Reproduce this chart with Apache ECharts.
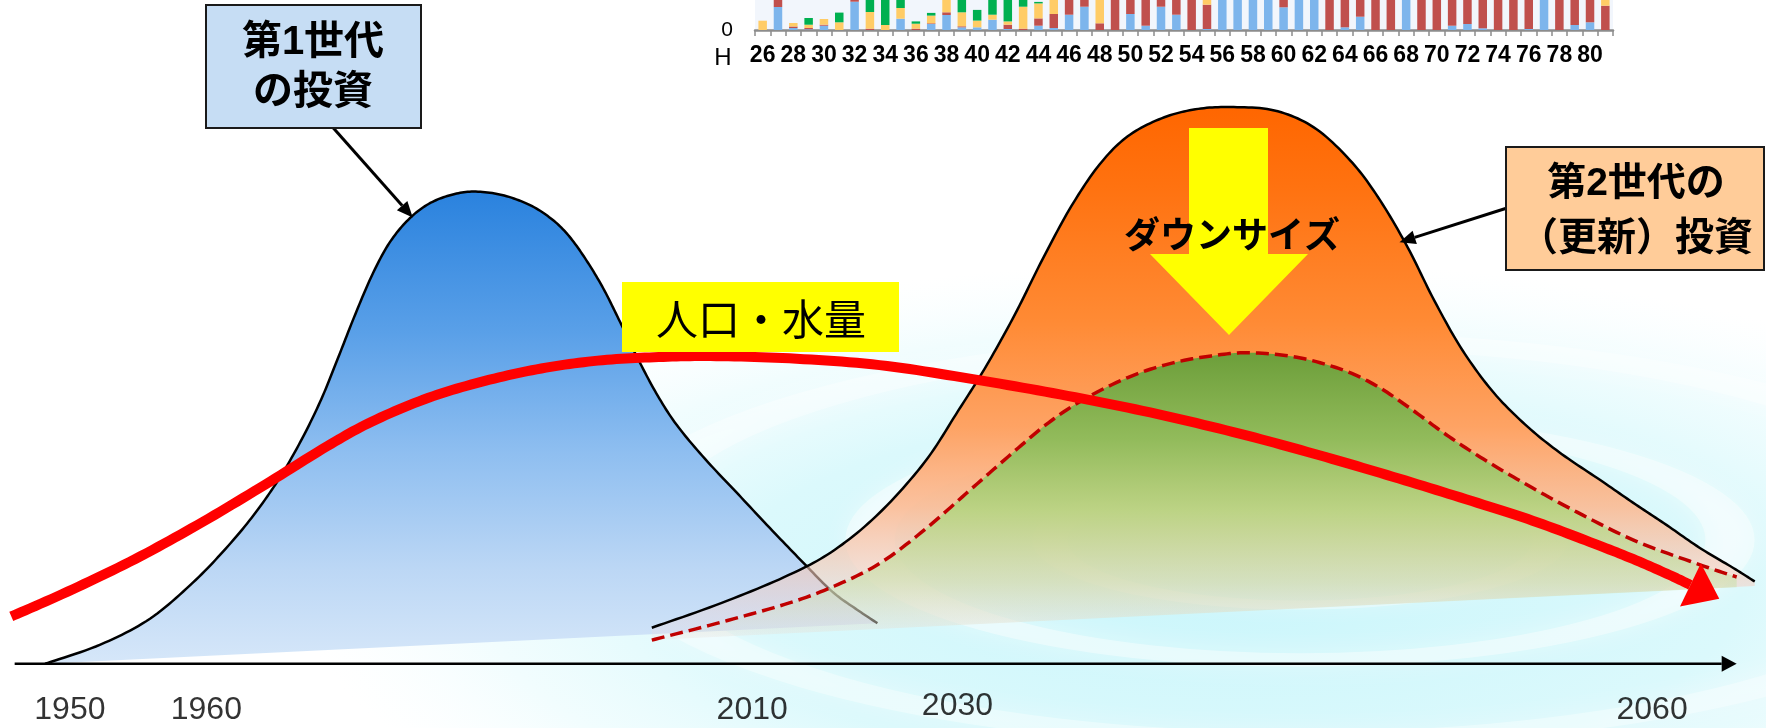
<!DOCTYPE html>
<html><head><meta charset="utf-8">
<script src="https://cdn.jsdelivr.net/npm/echarts@6/dist/echarts.min.js"></script>
<style>html,body{margin:0;padding:0;background:#fff}#c{width:1766px;height:728px}</style>
</head><body><div id="c"></div>
<script>
// ---------- inset bar chart (H26 - H81) ----------
const barYears = ['26','27','28','29','30','31','32','33','34','35','36','37','38','39','40','41','42','43','44','45','46','47','48','49','50','51','52','53','54','55','56','57','58','59','60','61','62','63','64','65','66','67','68','69','70','71','72','73','74','75','76','77','78','79','80','81'];
const barBlue   = [0,23,2,0.7,4.3,0,28.3,0,0,11.3,0,6,15,2.7,2.7,10.3,1,0,4.3,2,15.3,23.3,0,0,16,4.3,23.3,15.3,0,1,40,40,40,40,22.7,40,40,0,2.7,13.3,0,0,40,0,0,4.3,6,1.7,0,0,1,40,0,5,7.7,0];
const barRed    = [0,9,1.5,1.3,1,0,3,1.3,0,0,1.3,0.7,2.7,1,0,0,4.3,1.3,7.3,14,20,15,6.7,40,20,30,10,20,40,24.3,0,0,0,0,15,0,0,40,30,20,40,40,0,40,40,30,30,30,40,40,30,0,40,30,30,24.3];
const barYellow = [9.3,0,3.5,3.3,5.7,7.7,0,16.7,5,10.7,5,7.7,20,14,6.7,5,3.3,22,15,20,0,0,30,0,0,0,0,0,0,10,0,0,0,0,0,0,0,0,0,0,0,0,0,0,0,0,0,0,0,0,0,0,0,0,0,10];
const barGreen  = [0,0,0,6.7,0,9.7,0,20,40,20,2.3,2.7,0,25,10.7,25,30,15,1.5,0,0,0,0,0,0,0,0,0,0,0,0,0,0,0,0,0,0,0,0,0,0,0,0,0,0,0,0,0,0,0,0,0,0,0,0,0];

// ---------- main illustration: [position, level above time axis] ----------
const firstGen = [[40,0],[89,17],[133,40],[171,72],[200,102],[225,132],[248,165],[268,200],[285,235],[300,272],[315,310],[330,345],[345,373],[362,394],[380,408],[400,416],[420,419],[445,416],[470,407],[490,394],[505,379],[520,358],[535,333],[550,303],[565,272],[582,240],[600,212],[625,182],[655,150],[685,118],[712,90],[738,64],[760,48],[778,36]];
const secondGen = [[578,32],[640,54],[700,79],[740,101],[780,134],[820,179],[850,225],[875,265],[900,310],[925,360],[950,406],[975,443],[1000,468],[1030,484],[1060,492],[1091,494],[1130,491],[1165,476],[1197,447],[1222,414],[1248,370],[1272,322],[1297,278],[1325,240],[1355,210],[1385,186],[1419,163],[1448,143],[1478,123],[1507,103],[1537,85],[1556,73]];
const secondGenBase = [[1556,69],[578,21]];
const downsized = [[578,21],[640,37],[700,54],[740,69],[780,89],[820,119],[860,154],[900,189],[930,214],[960,234],[1000,254],[1040,267],[1080,274],[1110,276],[1150,272],[1190,261],[1220,247],[1250,227],[1280,205],[1310,185],[1345,164],[1390,139],[1448,110],[1507,88],[1540,77]];
const downsizedBase = [[1540,68]];
const population = [[10,42],[60,64],[120,93],[180,126],[240,162],[290,193],[330,215],[380,236],[430,251],[480,262],[530,269],[580,272],[630,273],[700,271],[780,265],[860,253],[940,239],[1020,223],[1100,204],[1170,185],[1235,166],[1300,146],[1359,127],[1410,108],[1448,93],[1480,79],[1499,70]];
const timeAxis = [[13,0],[1540,0]];
const pointer1 = [[295,476],[366,396]];
const pointer2 = [[1335,404],[1241,374]];
const yearLabels = ['1950','1960','2010','2030','2060'];
const yearPos = [[62,-41],[183,-41],[667,-41],[849,-38],[1465,-41]];

const FONT = '"Liberation Sans","Noto Sans CJK JP",sans-serif';

function catmull(p, seg){
  const out=[]; const n=p.length;
  for(let i=0;i<n-1;i++){
    const p0=p[i>0?i-1:0], p1=p[i], p2=p[i+1], p3=p[i+2<n?i+2:n-1];
    for(let k=0;k<seg;k++){
      const t=k/seg,t2=t*t,t3=t2*t;
      out.push([0,1].map(j=>0.5*(2*p1[j]+(-p0[j]+p2[j])*t+(2*p0[j]-5*p1[j]+4*p2[j]-p3[j])*t2+(-p0[j]+3*p1[j]-3*p2[j]+p3[j])*t3)));
    }
  }
  out.push(p[n-1].slice());
  return out;
}
function grad(stops){ return new echarts.graphic.LinearGradient(0,0,0,1,stops.map(s=>({offset:s[0],color:s[1]}))); }

function areaSeries(curve, base, stops, z){
  return {type:'custom', coordinateSystem:'cartesian2d', xAxisIndex:0, yAxisIndex:0, z:z, silent:true, data:[[0,0]],
    renderItem:function(params, api){
      const pts = catmull(curve.map(q=>api.coord(q)), 12).concat(base.map(q=>api.coord(q)));
      return {type:'polygon', shape:{points:pts}, style:{fill:grad(stops)}};
    }};
}
function strokeSeries(curve, color, width, dash, z){
  return {type:'custom', coordinateSystem:'cartesian2d', xAxisIndex:0, yAxisIndex:0, z:z, silent:true, data:[[0,0]],
    renderItem:function(params, api){
      const pts = catmull(curve.map(q=>api.coord(q)), 12);
      return {type:'polyline', shape:{points:pts}, style:{stroke:color, lineWidth:width, fill:'none', lineDash:dash||null}};
    }};
}
function arrowSeries(path, smooth, color, width, headLen, headHalf, tipBeyond, z){
  return {type:'custom', coordinateSystem:'cartesian2d', xAxisIndex:0, yAxisIndex:0, z:z, silent:true, data:[[0,0]],
    renderItem:function(params, api){
      let pts = path.map(q=>api.coord(q));
      if (smooth) pts = catmull(pts, 12);
      const e = pts[pts.length-1], b = pts[Math.max(0, pts.length-(smooth?5:2))];
      let dx=e[0]-b[0], dy=e[1]-b[1]; const L=Math.hypot(dx,dy); dx/=L; dy/=L;
      const nx=-dy, ny=dx;
      let tip, base;
      if (tipBeyond){ base=e; tip=[e[0]+dx*headLen, e[1]+dy*headLen]; }
      else { tip=e; base=[e[0]-dx*headLen, e[1]-dy*headLen]; pts=pts.slice(0,-1).concat([base]); }
      const c1=[base[0]+nx*headHalf, base[1]+ny*headHalf], c2=[base[0]-nx*headHalf, base[1]-ny*headHalf];
      return {type:'group', children:[
        {type:'polyline', shape:{points:pts}, style:{stroke:color, lineWidth:width, fill:'none', lineJoin:'round'}},
        {type:'polygon', shape:{points:[tip,c1,c2]}, style:{fill:color}}
      ]};
    }};
}

const chart = echarts.init(document.getElementById('c'), null, {renderer:'canvas'});
chart.setOption({
  animation:false,
  backgroundColor:'#ffffff',
  grid:[
    {left:0, right:0, top:0, bottom:0, outerBoundsMode:'none', containLabel:false},
    {left:755, right:153, top:-270, bottom:698, outerBoundsMode:'none', containLabel:false, show:true, backgroundColor:'#F2F6FC', borderWidth:0}
  ],
  xAxis:[
    {type:'value', gridIndex:0, min:0, max:1566, show:false},
    {type:'category', gridIndex:1, data:barYears, boundaryGap:true,
     axisLine:{show:true, lineStyle:{color:'#8c8c8c', width:2.5}},
     axisTick:{show:true, interval:0, length:6, lineStyle:{color:'#8c8c8c', width:1.5}},
     axisLabel:{interval:1, margin:14, fontSize:23, fontWeight:'bold', color:'#000', fontFamily:FONT}}
  ],
  yAxis:[
    {type:'value', gridIndex:0, min:-57, max:589, show:false},
    {type:'value', gridIndex:1, min:0, max:300, interval:300, axisLine:{show:false}, axisTick:{show:false}, splitLine:{show:false},
     axisLabel:{margin:22, fontSize:21, color:'#000', fontFamily:FONT}}
  ],
  graphic:[
    // water ripple background
    {type:'circle', z:0, silent:true, x:1230, y:590, scaleX:930, scaleY:330, shape:{cx:0,cy:0,r:1},
     style:{fill:new echarts.graphic.RadialGradient(0.5,0.5,0.5,[{offset:0,color:'rgba(185,243,250,0.75)'},{offset:0.55,color:'rgba(195,245,250,0.6)'},{offset:0.8,color:'rgba(215,249,252,0.35)'},{offset:1,color:'rgba(235,252,255,0)'}])}},
    {type:'circle', z:0, silent:true, x:1300, y:540, scaleX:430, scaleY:120, shape:{cx:0,cy:0,r:1},
     style:{fill:'none', stroke:'rgba(255,255,255,0.4)', lineWidth:26, strokeNoScale:true, shadowBlur:24, shadowColor:'#fff'}},
    {type:'circle', z:0, silent:true, x:1300, y:540, scaleX:680, scaleY:200, shape:{cx:0,cy:0,r:1},
     style:{fill:'none', stroke:'rgba(255,255,255,0.35)', lineWidth:30, strokeNoScale:true, shadowBlur:26, shadowColor:'#fff'}},
    {type:'circle', z:0, silent:true, x:1300, y:540, scaleX:250, scaleY:65, shape:{cx:0,cy:0,r:1},
     style:{fill:'none', stroke:'rgba(255,255,255,0.35)', lineWidth:18, strokeNoScale:true, shadowBlur:18, shadowColor:'#fff'}},
    // downsize arrow and text
    {type:'polygon', z:8, silent:true, shape:{points:[[1189,128],[1268,128],[1268,254],[1308,254],[1229,335],[1150,254],[1189,254]]}, style:{fill:'#FFFF00'}},
    {type:'text', z:9, silent:true, style:{text:'ダウンサイズ', x:1232, y:238, font:'bold 36px '+FONT, fill:'#000', textAlign:'center', textVerticalAlign:'middle'}},
    // population label
    {type:'rect', z:12, silent:true, shape:{x:622,y:282,width:277,height:70}, style:{fill:'#FFFF00'}},
    {type:'text', z:13, silent:true, style:{text:'人口・水量', x:761, y:323, font:'42px '+FONT, fill:'#000', textAlign:'center', textVerticalAlign:'middle'}},
    // box 1
    {type:'rect', z:12, silent:true, shape:{x:206,y:5,width:215,height:123}, style:{fill:'#C6DDF4', stroke:'#1a1a1a', lineWidth:2}},
    {type:'text', z:13, silent:true, style:{text:'第1世代\nの投資', x:313, y:68, font:'bold 40px '+FONT, fill:'#000', textAlign:'center', textVerticalAlign:'middle', lineHeight:50}},
    // box 2
    {type:'rect', z:12, silent:true, shape:{x:1506,y:147,width:258,height:123}, style:{fill:'#FFCC99', stroke:'#1a1a1a', lineWidth:2}},
    {type:'text', z:13, silent:true, style:{text:'第2世代の\n（更新）投資', x:1636, y:212, font:'bold 39px '+FONT, fill:'#000', textAlign:'center', textVerticalAlign:'middle', lineHeight:55}},
    // inset era label
    {type:'text', z:13, silent:true, style:{text:'H', x:723, y:58, font:'24px '+FONT, fill:'#000', textAlign:'center', textVerticalAlign:'middle'}}
  ],
  series:[
    {type:'bar', name:'blue', xAxisIndex:1, yAxisIndex:1, stack:'h', data:barBlue, barWidth:8.5, itemStyle:{color:'#7DB5EC'}, silent:true},
    {type:'bar', name:'red', xAxisIndex:1, yAxisIndex:1, stack:'h', data:barRed, barWidth:8.5, itemStyle:{color:'#C0504D'}, silent:true},
    {type:'bar', name:'yellow', xAxisIndex:1, yAxisIndex:1, stack:'h', data:barYellow, barWidth:8.5, itemStyle:{color:'#FFCC66'}, silent:true},
    {type:'bar', name:'green', xAxisIndex:1, yAxisIndex:1, stack:'h', data:barGreen, barWidth:8.5, itemStyle:{color:'#00B050'}, silent:true},

    areaSeries(firstGen, [], [[0,'#2A82DE'],[0.3,'#5AA0E8'],[0.55,'#8EBEF0'],[0.8,'#BCD7F5'],[1,'#D6E7F9']], 2),
    strokeSeries(firstGen, '#000', 2.5, null, 3),
    areaSeries(secondGen, secondGenBase, [[0,'rgba(255,102,0,1)'],[0.15,'rgba(255,114,16,1)'],[0.4,'rgba(255,138,52,1)'],[0.6,'rgba(255,160,95,0.97)'],[0.75,'rgba(252,185,145,0.88)'],[0.88,'rgba(245,205,190,0.6)'],[1,'rgba(240,220,225,0.2)']], 4),
    strokeSeries(secondGen, '#000', 2.5, null, 5),
    areaSeries(downsized, downsizedBase, [[0,'rgba(108,158,58,1)'],[0.3,'rgba(140,188,90,0.95)'],[0.55,'rgba(178,214,128,0.85)'],[0.8,'rgba(200,225,170,0.55)'],[1,'rgba(220,232,210,0.1)']], 6),
    strokeSeries(downsized, '#C00000', 3.5, [13,6], 7),
    arrowSeries(population, true, '#FF0000', 10, 32, 24, true, 10),
    arrowSeries(timeAxis, false, '#000', 2.5, 15, 8, false, 11),
    arrowSeries(pointer1, false, '#000', 3, 16, 7, false, 11),
    arrowSeries(pointer2, false, '#000', 3, 16, 7, false, 11),
    {type:'scatter', xAxisIndex:0, yAxisIndex:0, z:12, silent:true, symbolSize:1, itemStyle:{color:'transparent'},
     data: yearLabels.map((t,i)=>({name:t, value:yearPos[i]})),
     label:{show:true, position:'inside', formatter:'{b}', fontSize:32, color:'#000', fontFamily:FONT}}
  ]
});
</script>
</body></html>
